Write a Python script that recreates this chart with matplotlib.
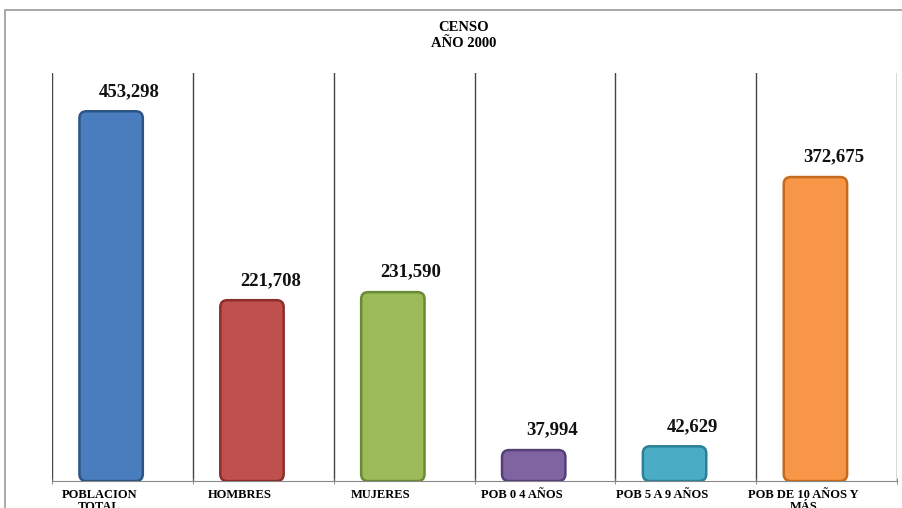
import matplotlib.pyplot as plt
from matplotlib.patches import Rectangle, FancyBboxPatch
import numpy as np

categorias = ['POBLACION\nTOTAL', 'HOMBRES', 'MUJERES', 'POB 0 4 AÑOS',
              'POB 5 A 9 AÑOS', 'POB DE 10 AÑOS Y\nMÁS']
valores = [453298, 221708, 231590, 37994, 42629, 372675]
colores = ['#4A7DBE', '#C0504D', '#9BBB59', '#8064A2', '#4BACC6', '#F79646']
bordes = ['#2C5485', '#8C2F2C', '#6B8A35', '#55407A', '#2B7F96', '#C46A1E']

plt.rcParams['font.family'] = ['Liberation Serif', 'DejaVu Serif']

fig = plt.figure(figsize=(9.02, 5.08), dpi=100)
fig.patches.append(Rectangle((0.006, -0.01), 1.0, 0.99, transform=fig.transFigure,
                             fill=False, edgecolor='#9a9a9a', linewidth=1.2))

ax = fig.add_axes([0.0576, 0.053, 0.937, 0.803])
x = np.arange(len(valores))
ymax = 500000
ax.set_xlim(-0.5, len(valores) - 0.5)
ax.set_ylim(0, ymax)

# barras con esquinas redondeadas (como el estilo 3D del original)
barras = ax.bar(x - 0.08, valores, width=0.45, color=colores, zorder=3)
ancho_px = fig.get_figwidth() * fig.dpi * 0.937
alto_px = fig.get_figheight() * fig.dpi * 0.803
aspecto = (ymax / alto_px) / (len(valores) / ancho_px)
for b, c, e in zip(barras, colores, bordes):
    caja = FancyBboxPatch((b.get_x(), b.get_y()), b.get_width(), b.get_height(),
                          boxstyle='round,pad=0,rounding_size=0.05',
                          mutation_aspect=aspecto, facecolor=c, edgecolor=e,
                          linewidth=1.8, zorder=3)
    b.remove()
    ax.add_patch(caja)

for xi, v in zip(x, valores):
    ax.text(xi + 0.05, v + 14000, f'{v:,}', ha='center', va='bottom',
            fontsize=13.5, fontweight='bold', color='#111111')

# lineas verticales en los limites de categoria
for b in np.arange(-0.5, len(valores), 1.0):
    ax.axvline(b, color='#444444', linewidth=1.0, zorder=1)

ax.set_xticks(x - 0.165)
ax.set_xticklabels(categorias, fontsize=9, fontweight='bold', linespacing=1.0)
ax.tick_params(axis='x', which='major', length=0, pad=6)
ax.set_xticks(np.arange(-0.5, len(valores), 1.0), minor=True)
ax.tick_params(axis='x', which='minor', length=5, direction='inout', color='#777777')
ax.set_yticks([])

for lado in ['top', 'right', 'left']:
    ax.spines[lado].set_visible(False)
ax.spines['bottom'].set_color('#888888')

fig.text(0.514, 0.93, 'CENSO\nAÑO 2000', ha='center', va='center',
         fontsize=10.5, fontweight='bold', linespacing=1.35)

plt.savefig('out.png', dpi=100)
plt.close()
